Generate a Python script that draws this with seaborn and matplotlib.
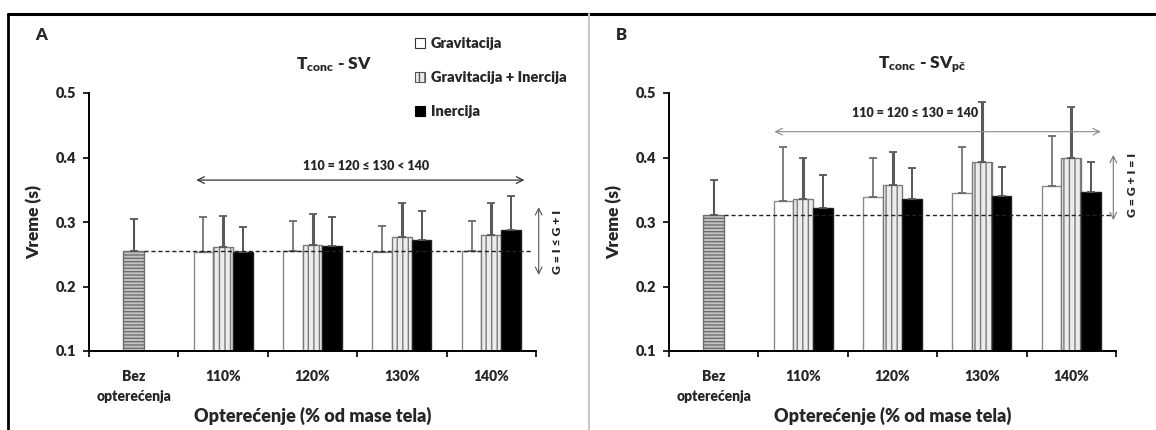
import numpy as np
import pandas as pd
import seaborn as sns
import matplotlib
matplotlib.use("Agg")
import matplotlib.pyplot as plt
from matplotlib.patches import Patch
from matplotlib.lines import Line2D

# ---------------- data ----------------
categories = ["Bez\nopterećenja", "110%", "120%", "130%", "140%"]
load_cats = ["110%", "120%", "130%", "140%"]
series = ["Gravitacija", "Gravitacija + Inercija", "Inercija"]

# Panel A  (Tconc - SV)
a_bez_mean = 0.255
a_bez_sd = 0.050
a_g_mean = [0.254, 0.255, 0.254, 0.255]
a_g_sd = [0.053, 0.046, 0.040, 0.047]
a_gi_mean = [0.261, 0.264, 0.276, 0.280]
a_gi_sd = [0.049, 0.049, 0.054, 0.050]
a_i_mean = [0.254, 0.263, 0.272, 0.287]
a_i_sd = [0.038, 0.045, 0.045, 0.053]

# Panel B  (Tconc - SVpč)
b_bez_mean = 0.311
b_bez_sd = 0.054
b_g_mean = [0.333, 0.338, 0.345, 0.356]
b_g_sd = [0.084, 0.062, 0.071, 0.077]
b_gi_mean = [0.335, 0.357, 0.393, 0.399]
b_gi_sd = [0.065, 0.051, 0.093, 0.079]
b_i_mean = [0.321, 0.335, 0.340, 0.347]
b_i_sd = [0.052, 0.048, 0.046, 0.046]

y_ticks = [0.1, 0.2, 0.3, 0.4, 0.5]
y_tick_labels = ["0.1", "0.2", "0.3", "0.4", "0.5"]

# ---------------- style ----------------
sns.set_theme(style="white")
FAM = ["Lato", "DejaVu Sans"]
WT = "heavy"
plt.rcParams["font.family"] = FAM
plt.rcParams["font.weight"] = WT
plt.rcParams["mathtext.fontset"] = "custom"
plt.rcParams["mathtext.rm"] = "Lato:heavy"
plt.rcParams["mathtext.it"] = "Lato:heavy"
plt.rcParams["mathtext.bf"] = "Lato:heavy"
plt.rcParams["hatch.linewidth"] = 1.0

W, H = 1156, 430
fig = plt.figure(figsize=(W / 100, H / 100), dpi=100)
fig.patch.set_facecolor("white")

styles = {
    "Gravitacija": dict(fc="white", ec="#8a8a8a", hatch=None, elw=1.2, ecol="#6a6a6a"),
    "Gravitacija + Inercija": dict(fc="#ececec", ec="#7a7a7a", hatch="|||", elw=2.2, ecol="#5a5a5a"),
    "Inercija": dict(fc="black", ec="#222222", hatch=None, elw=1.4, ecol="#555555"),
}


def px2fx(x):
    return x / W


def px2fy(y):
    return 1 - y / H


def draw_panel(ax, bez_mean, bez_sd, g_m, g_s, gi_m, gi_s, i_m, i_s):
    rows = []
    sds = {}
    for s, m, sd in zip(series, [g_m, gi_m, i_m], [g_s, gi_s, i_s]):
        for c, v, e in zip(load_cats, m, sd):
            rows.append({"cat": c, "val": v, "series": s})
            sds[(s, c)] = e
    df = pd.DataFrame(rows)
    sns.barplot(data=df, x="cat", y="val", hue="series", order=categories,
                hue_order=series, width=0.66, errorbar=None, ax=ax,
                palette=["white", "#ececec", "black"], legend=False,
                saturation=1)
    for s, cont in zip(series, ax.containers):
        st = styles[s]
        for p in cont.patches:
            p.set_facecolor(st["fc"])
            p.set_edgecolor(st["ec"])
            p.set_linewidth(1.0)
            if st["hatch"]:
                p.set_hatch(st["hatch"])
            xc = p.get_x() + p.get_width() / 2
            ci = int(round(xc))
            c = categories[ci]
            ax.errorbar(xc, p.get_height(), yerr=[[0], [sds[(s, c)]]],
                        fmt="none", ecolor=st["ecol"], elinewidth=st["elw"],
                        capsize=3, capthick=1.3, zorder=1)
    n_before = len(ax.containers)
    df_bez = pd.DataFrame({"cat": [categories[0]], "val": [bez_mean]})
    sns.barplot(data=df_bez, x="cat", y="val", order=categories, width=0.235,
                errorbar=None, ax=ax, color="#c4c4c4", saturation=1)
    bez_patch = ax.containers[n_before].patches[0]
    bez_patch.set_facecolor("#c4c4c4")
    bez_patch.set_edgecolor("#6f6f6f")
    bez_patch.set_hatch("-----")
    bez_patch.set_linewidth(1.0)
    xb = bez_patch.get_x() + bez_patch.get_width() / 2
    ax.errorbar(xb, bez_mean, yerr=[[0], [bez_sd]], fmt="none",
                ecolor="#555555", elinewidth=1.5, capsize=3, capthick=1.3,
                zorder=1)
    # dashed reference line
    ax.plot([bez_patch.get_x() + bez_patch.get_width(), 4.45],
            [bez_mean, bez_mean], ls=(0, (3, 2)), color="#222222", lw=1.0,
            zorder=5)

    ax.set_xlim(-0.5, 4.5)
    ax.set_ylim(0.1, 0.5)
    ax.set_yticks(y_ticks)
    ax.set_yticklabels(y_tick_labels, fontsize=10.5, fontweight=WT)
    ax.set_xticks(np.arange(-0.5, 5.0, 1.0))
    ax.set_xticklabels([])
    ax.set_xticks(np.arange(5), minor=True)
    ax.set_xticklabels(categories, minor=True, fontsize=10, fontweight=WT)
    ax.tick_params(axis="x", which="major", length=4, width=1.2,
                   direction="out", bottom=True, color="black")
    ax.tick_params(axis="x", which="minor", length=0, pad=14)
    ax.tick_params(axis="y", length=4, width=1.2, direction="out", left=True,
                   color="black", pad=5)
    for lab in ax.get_xticklabels(minor=True):
        lab.set_linespacing(1.6)
    ax.set_xlabel("Opterećenje (% od mase tela)", fontsize=13,
                  fontweight=WT, labelpad=3)
    ax.set_ylabel("Vreme (s)", fontsize=12.5, fontweight=WT, labelpad=10)
    sns.despine(ax=ax)
    for sp in ["left", "bottom"]:
        ax.spines[sp].set_color("black")
        ax.spines[sp].set_linewidth(1.4)
    ax.set_facecolor("white")
    ax.grid(False)


# axes placement
ax_w = px2fx(447)
ax_b = px2fy(351)
ax_h = 258 / H
axA = fig.add_axes([px2fx(89), ax_b, ax_w, ax_h])
axB = fig.add_axes([px2fx(669), ax_b, ax_w, ax_h])

draw_panel(axA, a_bez_mean, a_bez_sd, a_g_mean, a_g_sd, a_gi_mean, a_gi_sd,
           a_i_mean, a_i_sd)
draw_panel(axB, b_bez_mean, b_bez_sd, b_g_mean, b_g_sd, b_gi_mean, b_gi_sd,
           b_i_mean, b_i_sd)

# ---------------- annotations ----------------
# Panel A
axA.annotate("", xy=(4.37, 0.365), xytext=(0.70, 0.365),
             arrowprops=dict(arrowstyle="<->", color="#333333", lw=0.9,
                             shrinkA=0, shrinkB=0))
axA.text(2.6, 0.387, "110 = 120 ≤ 130 < 140", ha="center", va="center",
         fontsize=9, fontweight=WT, family=FAM)
axA.annotate("", xy=(4.53, 0.323), xytext=(4.53, 0.218),
             arrowprops=dict(arrowstyle="<->", color="#555555", lw=0.8,
                             shrinkA=0, shrinkB=0), annotation_clip=False)
axA.text(4.74, 0.269, "G = I ≤ G + I", ha="center", va="center",
         rotation=90, fontsize=8.8, fontweight=WT, family=FAM, clip_on=False)

# Panel B
axB.annotate("", xy=(4.33, 0.440), xytext=(0.68, 0.440),
             arrowprops=dict(arrowstyle="<->", color="#888888", lw=0.8,
                             shrinkA=0, shrinkB=0))
axB.text(2.25, 0.469, "110 = 120 ≤ 130 = 140", ha="center", va="center",
         fontsize=9, fontweight=WT, family=FAM)
axB.annotate("", xy=(4.47, 0.404), xytext=(4.47, 0.303),
             arrowprops=dict(arrowstyle="<->", color="#777777", lw=0.8,
                             shrinkA=0, shrinkB=0), annotation_clip=False)
axB.text(4.68, 0.357, "G = G + I = I", ha="center", va="center",
         rotation=90, fontsize=8.8, fontweight=WT, family=FAM, clip_on=False)

# titles
fig.text(px2fx(334), px2fy(65), r"T$_{\mathrm{conc}}$ - SV", ha="center",
         va="center", fontsize=12.5, fontweight=WT)
fig.text(px2fx(922), px2fy(65), r"T$_{\mathrm{conc}}$ - SV$_{\mathrm{pč}}$",
         ha="center", va="center", fontsize=12.5, fontweight=WT)

# panel letters
fig.text(px2fx(41), px2fy(35), "A", ha="center", va="center", fontsize=12,
         fontweight=WT)
fig.text(px2fx(621), px2fy(35), "B", ha="center", va="center", fontsize=12,
         fontweight=WT)

# legend (panel A)
handles = [
    Patch(facecolor="white", edgecolor="#333333", linewidth=0.8),
    Patch(facecolor="#ececec", edgecolor="#555555", hatch="|||", linewidth=0.8),
    Patch(facecolor="black", edgecolor="black", linewidth=0.8),
]
leg = fig.legend(handles, series, loc="upper left",
                 bbox_to_anchor=(px2fx(415), px2fy(37)), frameon=False,
                 fontsize=10.5, handlelength=0.7, handleheight=0.7,
                 handletextpad=0.4, labelspacing=1.45, borderaxespad=0,
                 borderpad=0)
for t in leg.get_texts():
    t.set_fontweight(WT)

# frame lines
fig.add_artist(Line2D([px2fx(8), 1.0], [px2fy(14), px2fy(14)], color="black",
                      lw=2.2))
fig.add_artist(Line2D([px2fx(8), px2fx(8)], [px2fy(14), 0], color="black",
                      lw=2.0))
fig.add_artist(Line2D([px2fx(589), px2fx(589)], [px2fy(14), 0],
                      color="#c8c8c8", lw=1.5))

fig.savefig("out.png", dpi=100, facecolor="white")
